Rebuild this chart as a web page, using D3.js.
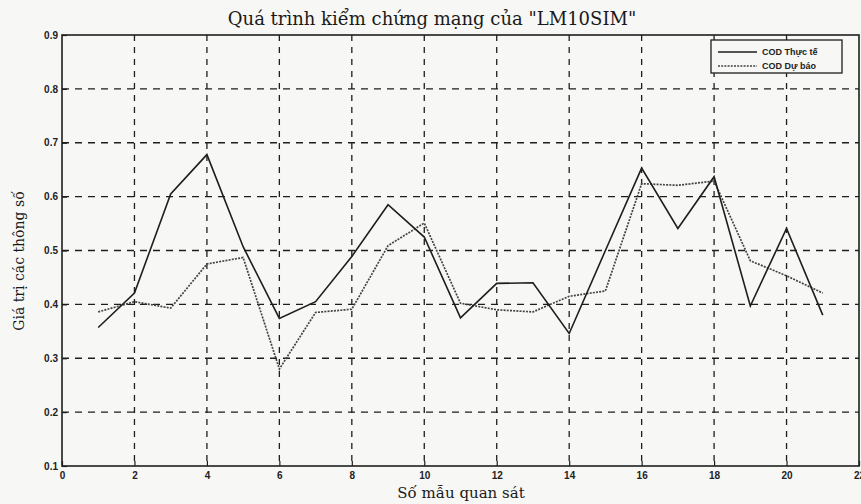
<!DOCTYPE html>
<html>
<head>
<meta charset="utf-8">
<script src="https://cdn.jsdelivr.net/npm/d3@7"></script>
<style>
  body { margin: 0; background: #f7f7f5; }
  svg { display: block; }
  .tick-lbl { font-family: "Liberation Sans", Arial, sans-serif; font-weight: bold; font-size: 10px; fill: #222; }
  .serif { font-family: "DejaVu Serif", "Liberation Serif", serif; fill: #1a1a1a; }
</style>
</head>
<body>
<div id="chart"></div>
<script>
// samples 1..21
const samples = d3.range(1, 22)
const codActual = [0.357, 0.421, 0.605, 0.678, 0.507, 0.374, 0.405, 0.489, 0.585, 0.525, 0.375,
                   0.439, 0.440, 0.346, 0.500, 0.653, 0.541, 0.637, 0.397, 0.541, 0.380]
const codPredict = [0.386, 0.405, 0.393, 0.475, 0.487, 0.280, 0.385, 0.391, 0.509, 0.551, 0.402,
                    0.390, 0.386, 0.415, 0.425, 0.624, 0.621, 0.629, 0.481, 0.453, 0.421]
const xTicks = [0, 2, 4, 6, 8, 10, 12, 14, 16, 18, 20, 22]
const yTicks = [0.1, 0.2, 0.3, 0.4, 0.5, 0.6, 0.7, 0.8, 0.9]
const legendLabels = ['COD Thực tế', 'COD Dự báo']

const W = 861, H = 504
const m = { top: 35, right: 2, bottom: 38, left: 62 } // plot box 62..859, 35..466

const svg = d3.select('#chart').append('svg')
    .attr('width', W)
    .attr('height', H)

const x = d3.scaleLinear().domain([0, 22]).range([m.left, W - m.right])
const y = d3.scaleLinear().domain([0.1, 0.9]).range([H - m.bottom, m.top])

const ink = '#1e1e1e'

// dashed grid
const grid = svg.append('g')
grid.selectAll('.vg')
    .data(xTicks.slice(1, -1))
    .enter().append('line')
    .attr('x1', d => x(d)).attr('x2', d => x(d))
    .attr('y1', y(0.9)).attr('y2', y(0.1))
    .attr('stroke', ink).attr('stroke-width', 1.3)
    .attr('stroke-dasharray', '6,6')
grid.selectAll('.hg')
    .data(yTicks.slice(1, -1))
    .enter().append('line')
    .attr('x1', x(0)).attr('x2', x(22))
    .attr('y1', d => y(d)).attr('y2', d => y(d))
    .attr('stroke', ink).attr('stroke-width', 1.3)
    .attr('stroke-dasharray', '7,6')

// axes with inward ticks (matlab style)
const xAxis = d3.axisBottom(x).tickValues(xTicks).tickSize(-5).tickPadding(8).tickFormat(d3.format('d'))
const yAxis = d3.axisLeft(y).tickValues(yTicks).tickSize(-5).tickPadding(4).tickFormat(d3.format('.1f'))

const gx = svg.append('g').attr('transform', `translate(0,${y(0.1)})`).call(xAxis)
const gy = svg.append('g').attr('transform', `translate(${x(0)},0)`).call(yAxis)
;[gx, gy].forEach(g => {
    g.select('.domain').remove()
    g.selectAll('line').attr('stroke', ink).attr('stroke-width', 1.2)
    g.selectAll('text').attr('class', 'tick-lbl')
})
gx.selectAll('text').attr('dy', '0.5em')

// plot box
svg.append('rect')
    .attr('x', x(0)).attr('y', y(0.9))
    .attr('width', x(22) - x(0)).attr('height', y(0.1) - y(0.9))
    .attr('fill', 'none').attr('stroke', ink).attr('stroke-width', 1.6)

const line = d3.line().x((d, i) => x(samples[i])).y(d => y(d))

svg.append('path')
    .datum(codPredict)
    .attr('d', line)
    .attr('fill', 'none')
    .attr('stroke', '#444')
    .attr('stroke-width', 1.7)
    .attr('stroke-dasharray', '2,1.2')

svg.append('path')
    .datum(codActual)
    .attr('d', line)
    .attr('fill', 'none')
    .attr('stroke', ink)
    .attr('stroke-width', 1.6)

// legend
const lg = svg.append('g').attr('transform', 'translate(711,40)')
lg.append('rect')
    .attr('width', 131).attr('height', 33)
    .attr('fill', '#f7f7f5').attr('stroke', ink).attr('stroke-width', 1.3)
legendLabels.forEach((lbl, i) => {
    const ly = 12 + i * 14
    lg.append('line')
        .attr('x1', 7).attr('x2', 46).attr('y1', ly).attr('y2', ly)
        .attr('stroke', i ? '#444' : ink).attr('stroke-width', 1.3)
        .attr('stroke-dasharray', i ? '2,1.2' : null)
    lg.append('text')
        .attr('x', 51).attr('y', ly).attr('dy', '0.35em')
        .attr('class', 'tick-lbl')
        .style('font-size', '9px')
        .text(lbl)
})

// title and axis labels
svg.append('text')
    .attr('class', 'serif')
    .attr('x', 432).attr('y', 25)
    .attr('text-anchor', 'middle')
    .style('font-size', '18px')
    .text('Quá trình kiểm chứng mạng của "LM10SIM"')

svg.append('text')
    .attr('class', 'serif')
    .attr('x', 461).attr('y', 498)
    .attr('text-anchor', 'middle')
    .style('font-size', '15px')
    .text('Số mẫu quan sát')

svg.append('text')
    .attr('class', 'serif')
    .attr('transform', 'translate(24,261) rotate(-90)')
    .attr('text-anchor', 'middle')
    .style('font-size', '14px')
    .text('Giá trị các thông số')
</script>
</body>
</html>
